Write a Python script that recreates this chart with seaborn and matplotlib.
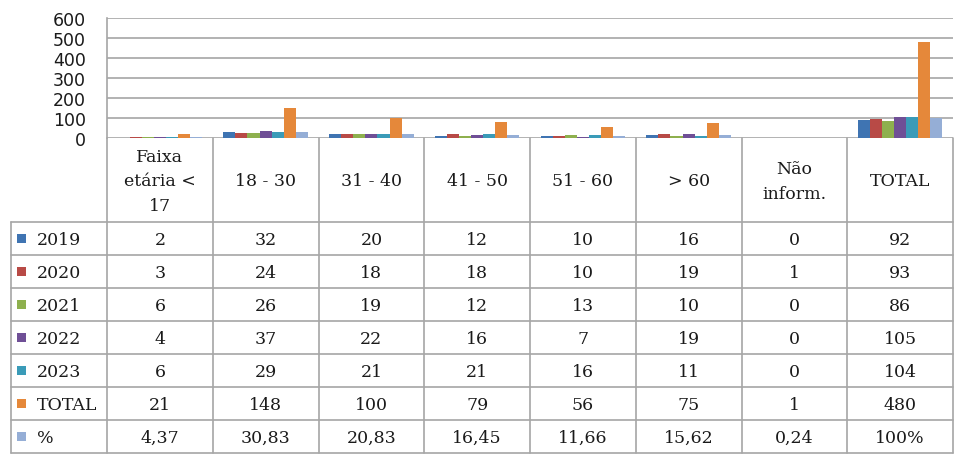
import numpy as np
import pandas as pd
import matplotlib
matplotlib.use("Agg")
import matplotlib.pyplot as plt
import seaborn as sns

# ---- data ----
categories = ["Faixa\netária <\n17", "18 - 30", "31 - 40", "41 - 50", "51 - 60", "> 60", "Não\ninform.", "TOTAL"]
series = ["2019", "2020", "2021", "2022", "2023", "TOTAL", "%"]
v2019 = [2, 32, 20, 12, 10, 16, 0, 92]
v2020 = [3, 24, 18, 18, 10, 19, 1, 93]
v2021 = [6, 26, 19, 12, 13, 10, 0, 86]
v2022 = [4, 37, 22, 16, 7, 19, 0, 105]
v2023 = [6, 29, 21, 21, 16, 11, 0, 104]
vtotal = [21, 148, 100, 79, 56, 75, 1, 480]
vpct = [4.37, 30.83, 20.83, 16.45, 11.66, 15.62, 0.24, 100]
yticks = [0, 100, 200, 300, 400, 500, 600]

values = [v2019, v2020, v2021, v2022, v2023, vtotal, vpct]
colors = ["#3F74B2", "#B84A46", "#8EB04E", "#6F4F96", "#3A9BB8", "#E5883A", "#95AED6"]

rows = []
for s, vals in zip(series, values):
    for c, v in zip(categories, vals):
        rows.append({"cat": c, "series": s, "value": v})
df = pd.DataFrame(rows)

def fmt(s, v, j):
    if s == "%":
        if j == len(categories) - 1:
            return "100%"
        return f"{v:.2f}".replace(".", ",")
    return str(v)

# ---- figure ----
sns.set_theme(style="white")
plt.rcParams["font.family"] = ["DejaVu Sans"]
W, H = 960, 460
fig = plt.figure(figsize=(W / 100, H / 100), dpi=100)

L, R, T, B = 107, 953, 19, 139
ax = fig.add_axes([L / W, 1 - B / H, (R - L) / W, (B - T) / H])
sns.barplot(data=df, x="cat", y="value", hue="series", hue_order=series,
            order=categories, palette=colors, saturation=1, width=0.8,
            ax=ax, legend=False, linewidth=0)
ax.set_xlim(-0.5, len(categories) - 0.5)
ax.set_ylim(0, 600)
ax.set_yticks(yticks)
ax.set_yticklabels([str(t) for t in yticks], fontsize=12.5, color="#1a1a1a")
ax.tick_params(axis="y", length=0, pad=15)
ax.set_xticks([])
ax.set_xlabel("")
ax.set_ylabel("")
ax.grid(axis="y", color="#A6A6A6", linewidth=1.2)
ax.set_axisbelow(True)
for sp in ["top", "right", "bottom"]:
    ax.spines[sp].set_visible(False)
ax.spines["left"].set_color("#A6A6A6")
ax.spines["left"].set_linewidth(1.2)

# ---- data table (overlay, pixel coordinates) ----
ov = fig.add_axes([0, 0, 1, 1])
ov.set_xlim(0, W)
ov.set_ylim(H, 0)
ov.axis("off")
ov.patch.set_alpha(0)

bounds = [ax.transData.transform((i - 0.5, 0))[0] for i in range(len(categories) + 1)]
lc = "#A6A6A6"
lw = 1.2
hdr_top, hdr_bot = B, 223
row_h = 33
tab_left = 11
n_rows = len(series)
tab_bot = hdr_bot + n_rows * row_h

for x in bounds:
    ov.plot([x, x], [hdr_top, tab_bot], color=lc, lw=lw)
ov.plot([tab_left, tab_left], [hdr_bot, tab_bot], color=lc, lw=lw)
for k in range(n_rows + 1):
    y = hdr_bot + k * row_h
    ov.plot([tab_left, bounds[-1]], [y, y], color=lc, lw=lw)

serif = ["DejaVu Serif"]
fs = 12.5
tc = "#1a1a1a"
for i, c in enumerate(categories):
    xc = (bounds[i] + bounds[i + 1]) / 2
    ov.text(xc, (hdr_top + hdr_bot) / 2 + 1, c, ha="center", va="center",
            fontsize=fs, family=serif, color=tc, linespacing=1.55)

for k, (s, vals, col) in enumerate(zip(series, values, colors)):
    yc = hdr_bot + k * row_h + row_h / 2
    ov.add_patch(plt.Rectangle((17, yc - 4.5), 9, 9, color=col, lw=0))
    ov.text(37, yc + 1, s, ha="left", va="center", fontsize=fs, family=serif, color=tc)
    for j, v in enumerate(vals):
        xc = (bounds[j] + bounds[j + 1]) / 2
        ov.text(xc, yc + 1, fmt(s, v, j), ha="center", va="center",
                fontsize=fs, family=serif, color=tc)

fig.savefig("out.png", dpi=100)
